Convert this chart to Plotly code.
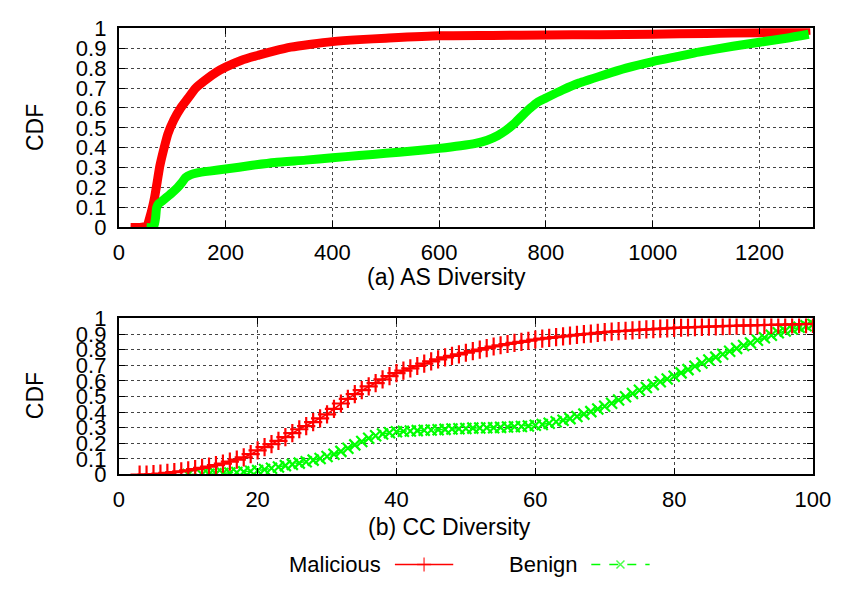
import plotly.graph_objects as go

# ---- data: (a) AS Diversity ----
as_mal_x = [22, 40, 53, 58, 63, 67, 72, 77, 84, 92, 103, 116, 130, 144, 162, 183, 200, 230, 262, 290, 322,
            360, 400, 450, 500, 600, 700, 800, 900, 1000, 1100, 1200, 1250, 1295]
as_mal_y = [0, 0, 0.01, 0.05, 0.1, 0.15, 0.23, 0.31, 0.39, 0.47, 0.54, 0.6, 0.65, 0.70, 0.74, 0.78, 0.805,
            0.84, 0.865, 0.885, 0.905, 0.92, 0.933, 0.943, 0.95, 0.962, 0.964, 0.966, 0.968, 0.97, 0.974,
            0.978, 0.983, 0.99]
as_ben_x = [52, 60, 66, 69, 71, 75, 80, 89, 100, 110, 118, 125, 135, 147, 170, 200, 250, 292, 350, 400,
            450, 500, 550, 600, 640, 668, 690, 710, 725, 740, 755, 771, 785, 800, 831, 862, 904, 950, 1000,
            1050, 1086, 1150, 1200, 1250, 1292]
as_ben_y = [0, 0, 0.01, 0.05, 0.1, 0.12, 0.13, 0.15, 0.175, 0.2, 0.225, 0.25, 0.265, 0.274, 0.283, 0.293,
            0.312, 0.326, 0.338, 0.35, 0.361, 0.372, 0.384, 0.397, 0.41, 0.422, 0.438, 0.462, 0.487, 0.52,
            0.56, 0.60, 0.63, 0.65, 0.69, 0.725, 0.762, 0.80, 0.833, 0.86, 0.88, 0.91, 0.93, 0.95, 0.97]

# ---- data: (b) CC Diversity ----
cc_mal_x = list(range(3, 101))
cc_mal_y = [0, 0, 0.002, 0.005, 0.01, 0.015, 0.02, 0.027, 0.034, 0.042, 0.05, 0.06, 0.07, 0.082, 0.095,
            0.11, 0.13, 0.155, 0.175, 0.195, 0.215, 0.24, 0.265, 0.29, 0.31, 0.335, 0.36, 0.385, 0.42,
            0.455, 0.485, 0.515, 0.54, 0.565, 0.585, 0.61, 0.63, 0.65, 0.665, 0.68, 0.695, 0.71, 0.725,
            0.738, 0.75, 0.76, 0.77, 0.78, 0.79, 0.80, 0.81, 0.82, 0.828, 0.836, 0.843, 0.85, 0.857, 0.865,
            0.87, 0.875, 0.88, 0.885, 0.89, 0.895, 0.899, 0.903, 0.908, 0.912, 0.915, 0.918, 0.921, 0.924,
            0.927, 0.93, 0.932, 0.934, 0.936, 0.939, 0.941, 0.943, 0.944, 0.946, 0.948, 0.949, 0.95, 0.952,
            0.953, 0.955, 0.956, 0.957, 0.958, 0.959, 0.96, 0.961, 0.962, 0.963, 0.964, 0.965]
cc_ben_x = [10] + list(range(12, 101))
cc_ben_y = [0, 0, 0.002, 0.004, 0.007, 0.01, 0.013, 0.017, 0.021, 0.025, 0.032, 0.04, 0.048, 0.057,
            0.065, 0.073, 0.082, 0.092, 0.103, 0.115, 0.13, 0.148, 0.168, 0.19, 0.212, 0.232, 0.248, 0.26,
            0.268, 0.274, 0.277, 0.279, 0.281, 0.283, 0.285, 0.287, 0.289, 0.291, 0.293, 0.295, 0.297,
            0.298, 0.299, 0.3, 0.302, 0.304, 0.306, 0.308, 0.311, 0.315, 0.32, 0.328, 0.338, 0.348, 0.358,
            0.372, 0.387, 0.403, 0.42, 0.437, 0.457, 0.477, 0.498, 0.519, 0.54, 0.558, 0.576, 0.594, 0.612,
            0.63, 0.651, 0.672, 0.693, 0.714, 0.734, 0.752, 0.771, 0.79, 0.808, 0.826, 0.843, 0.86, 0.876,
            0.892, 0.908, 0.92, 0.932, 0.943, 0.953, 0.963]

y_ticks = [i / 10 for i in range(11)]
y_tick_text = ["0", "0.1", "0.2", "0.3", "0.4", "0.5", "0.6", "0.7", "0.8", "0.9", "1"]
as_ticks = [0, 200, 400, 600, 800, 1000, 1200]
cc_ticks = [0, 20, 40, 60, 80, 100]

RED = "#ff0000"
GREEN = "#00ff00"
FONT = "Liberation Sans, Arial, Helvetica, sans-serif"
FS = 22
TS = 23
W, H = 865, 589

fig = go.Figure()

# top panel: dense marker bands drawn as thick lines
fig.add_trace(go.Scatter(x=as_mal_x, y=as_mal_y, mode="lines",
                         line=dict(color=RED, width=9, shape="spline", smoothing=0.6),
                         xaxis="x", yaxis="y", showlegend=False))
fig.add_trace(go.Scatter(x=as_ben_x, y=as_ben_y, mode="lines",
                         line=dict(color=GREEN, width=9, shape="spline", smoothing=0.6),
                         xaxis="x", yaxis="y", showlegend=False))
# bottom panel
fig.add_trace(go.Scatter(x=cc_ben_x, y=cc_ben_y, mode="lines+markers",
                         line=dict(color=GREEN, width=1.5, dash="dash"),
                         marker=dict(symbol="x-thin", size=11, line=dict(color=GREEN, width=2.2)),
                         xaxis="x2", yaxis="y2", showlegend=False))
fig.add_trace(go.Scatter(x=cc_mal_x, y=cc_mal_y, mode="lines+markers",
                         line=dict(color=RED, width=1.5),
                         marker=dict(symbol="cross-thin", size=13, line=dict(color=RED, width=2.2)),
                         xaxis="x2", yaxis="y2", showlegend=False))

# legend samples on a hidden axis
fig.add_trace(go.Scatter(x=[400, 430, 460], y=[0.5, 0.5, 0.5], mode="lines+markers",
                         line=dict(color=RED, width=1.5),
                         marker=dict(symbol="cross-thin", size=[0, 10, 0], line=dict(color=RED, width=1.5)),
                         xaxis="x3", yaxis="y3", showlegend=False, hoverinfo="skip"))
fig.add_trace(go.Scatter(x=[602, 632, 662], y=[0.5, 0.5, 0.5], mode="lines+markers",
                         line=dict(color=GREEN, width=1.5, dash="dash"),
                         marker=dict(symbol="x-thin", size=[0, 8, 0], line=dict(color=GREEN, width=1.5)),
                         xaxis="x3", yaxis="y3", showlegend=False, hoverinfo="skip"))

xd = [116 / W, 830 / W]
common_axis = dict(showline=True, linecolor="black", linewidth=2, mirror="allticks", ticks="inside",
                   ticklen=6, tickcolor="black", tickwidth=1, showgrid=True, gridcolor="#444444",
                   griddash="dot", gridwidth=1, zeroline=False,
                   tickfont=dict(family=FONT, size=FS, color="black"))

fig.update_layout(
    width=W, height=H, margin=dict(l=0, r=0, t=0, b=0),
    paper_bgcolor="white", plot_bgcolor="white",
    font=dict(family=FONT, size=FS, color="black"),
    xaxis=dict(domain=xd, range=[0, 1300], tickvals=as_ticks, anchor="y", ticklabelstandoff=4, **common_axis),
    yaxis=dict(domain=[1 - 225 / H, 1 - 17 / H], range=[0, 1], tickvals=y_ticks, ticktext=y_tick_text,
               anchor="x", ticklabelstandoff=6, **common_axis),
    xaxis2=dict(domain=xd, range=[0, 100], tickvals=cc_ticks, anchor="y2", ticklabelstandoff=4, **common_axis),
    yaxis2=dict(domain=[1 - 483 / H, 1 - 320 / H], range=[0, 1], tickvals=y_ticks, ticktext=y_tick_text,
                anchor="x2", ticklabelstandoff=6, **common_axis),
    xaxis3=dict(domain=[0, 1], range=[0, W], visible=False, anchor="y3"),
    yaxis3=dict(domain=[1 - 587 / H, 1 - 567 / H], range=[0, 1], visible=False, anchor="x3"),
    annotations=[
        dict(text="(a) AS Diversity", x=453 / W, y=1 - 277 / H, xref="paper", yref="paper",
             showarrow=False, xanchor="center", yanchor="middle", font=dict(size=TS)),
        dict(text="(b) CC Diversity", x=456 / W, y=1 - 538 / H, xref="paper", yref="paper",
             showarrow=False, xanchor="center", yanchor="middle", font=dict(size=TS)),
        dict(text="CDF", x=30 / W, y=1 - 121 / H, xref="paper", yref="paper", textangle=-90,
             showarrow=False, xanchor="center", yanchor="middle", font=dict(size=TS)),
        dict(text="CDF", x=30 / W, y=1 - 401 / H, xref="paper", yref="paper", textangle=-90,
             showarrow=False, xanchor="center", yanchor="middle", font=dict(size=TS)),
        dict(text="Malicious", x=388 / W, y=1 - 577 / H, xref="paper", yref="paper",
             showarrow=False, xanchor="right", yanchor="middle", font=dict(size=FS)),
        dict(text="Benign", x=590 / W, y=1 - 577 / H, xref="paper", yref="paper",
             showarrow=False, xanchor="right", yanchor="middle", font=dict(size=FS)),
    ],
)

fig.write_html("out.html")
